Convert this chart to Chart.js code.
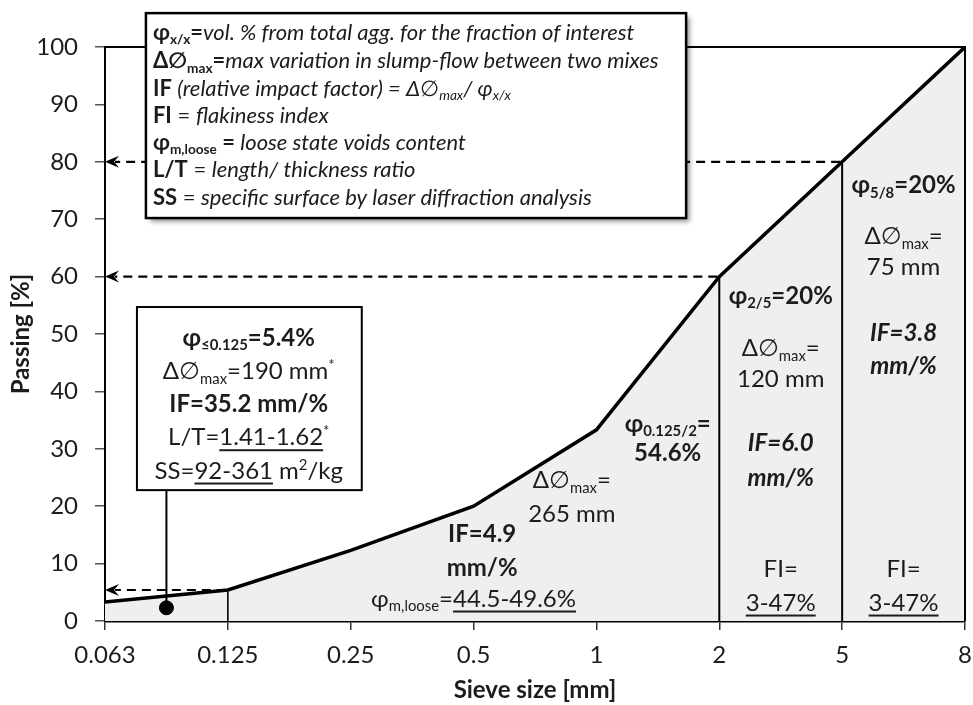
<!DOCTYPE html>
<html>
<head>
<meta charset="utf-8">
<script src="https://cdn.jsdelivr.net/npm/chart.js@4.4.1/dist/chart.umd.min.js"></script>
<style>
  html, body { margin: 0; padding: 0; background: #fff; }
  #wrap { width: 973px; height: 705px; }
</style>
</head>
<body>
<div id="wrap"><canvas id="chart" width="973" height="705"></canvas></div>
<script>
// Grading curve: sieve openings and cumulative passing
const sieveSizes = ['0.063', '0.125', '0.25', '0.5', '1', '2', '5', '8'];
const passing = [3.3, 5.4, 12.3, 20, 33.3, 60, 80, 100];
// sieves that close each fraction (≤0.125, 0.125/2, 2/5 and 5/8)
const fractionLimits = [1, 5, 6];
// marker of the filler fraction, placed between 0.063 and 0.125
const fillerPoint = [{ x: 0.5, y: 2.3 }];
const yMin = 0, yMax = 100, yStep = 10;

const FONT = 'Lato, "DejaVu Sans", sans-serif';
const INK = '#1c1c1c';

// ---- rich text helpers: each segment is [text, flags] ----
// flags: b = bold, i = italic, _ = subscript, ^ = superscript, u = underline
function segFont(flags, size) {
  const small = flags.includes('_') || flags.includes('^');
  const sz = small ? size * 0.62 : size;
  return (flags.includes('i') ? 'italic ' : '') + (flags.includes('b') ? 'bold ' : '') + sz + 'px ' + FONT;
}
function richWidth(ctx, segs, size) {
  let w = 0;
  for (const [t, f] of segs) { ctx.font = segFont(f, size); w += ctx.measureText(t).width; }
  return w;
}
function drawRich(ctx, segs, x, y, size, align) {
  const w = richWidth(ctx, segs, size);
  let cx = align === 'left' ? x : x - w / 2;
  const base = y + size * 0.36;
  ctx.textAlign = 'left';
  ctx.textBaseline = 'alphabetic';
  for (const [t, f] of segs) {
    ctx.font = segFont(f, size);
    let by = base;
    if (f.includes('_')) by += size * 0.2;
    if (f.includes('^')) by -= size * 0.38;
    ctx.fillText(t, cx, by);
    const sw = ctx.measureText(t).width;
    if (f.includes('u')) ctx.fillRect(cx, base + size * 0.16, sw, 2);
    cx += sw;
  }
}

const PHI = 'φ', DIA = '∅';

// notes inside the graded area, anchored at (sieve index, passing %)
const areaNotes = [
  { x: 6.5, y: 76.0, s: [[PHI, 'b'], ['5/8', 'b_'], ['=20%', 'b']] },
  { x: 6.5, y: 67.2, s: [['Δ' + DIA, ''], ['max', '_'], ['=', '']] },
  { x: 6.5, y: 61.7, s: [['75 mm', '']] },
  { x: 6.5, y: 50.2, s: [['IF=3.8', 'bi']] },
  { x: 6.5, y: 44.6, s: [['mm/%', 'bi']] },
  { x: 6.5, y: 9.2, s: [['FI=', '']] },
  { x: 6.5, y: 3.3, s: [['3-47%', 'u']] },
  { x: 5.5, y: 56.8, s: [[PHI, 'b'], ['2/5', 'b_'], ['=20%', 'b']] },
  { x: 5.5, y: 47.7, s: [['Δ' + DIA, ''], ['max', '_'], ['=', '']] },
  { x: 5.5, y: 42.3, s: [['120 mm', '']] },
  { x: 5.5, y: 31.2, s: [['IF=6.0', 'bi']] },
  { x: 5.5, y: 25.1, s: [['mm/%', 'bi']] },
  { x: 5.5, y: 9.2, s: [['FI=', '']] },
  { x: 5.5, y: 3.3, s: [['3-47%', 'u']] },
  { x: 4.58, y: 34.5, s: [[PHI, 'b'], ['0.125/2', 'b_'], ['=', 'b']] },
  { x: 4.58, y: 29.4, s: [['54.6%', 'b']] },
  { x: 3.8, y: 24.6, s: [['Δ' + DIA, ''], ['max', '_'], ['=', '']] },
  { x: 3.8, y: 18.8, s: [['265 mm', '']] },
  { x: 3.07, y: 15.3, s: [['IF=4.9', 'b']] },
  { x: 3.07, y: 9.4, s: [['mm/%', 'b']] },
  { x: 3.0, y: 4.0, s: [[PHI, ''], ['m,loose', '_'], ['=', ''], ['44.5-49.6%', 'u']] }
];

// filler fraction box
const fillerBox = { x0: 0.26, x1: 2.09, y0: 54.7, y1: 22.8, cx: 1.17 };
const fillerLines = [
  { y: 49.5, s: [[PHI, 'b'], ['≤0.125', 'b_'], ['=5.4%', 'b']] },
  { y: 43.7, s: [['Δ' + DIA, ''], ['max', '_'], ['=190 mm', ''], ['*', '^']] },
  { y: 38.0, s: [['IF=35.2 mm/%', 'b']] },
  { y: 32.1, s: [['L/T=', ''], ['1.41-1.62', 'u'], ['*', '^']] },
  { y: 26.3, s: [['SS=', ''], ['92-361', 'u'], [' m', ''], ['2', '^'], ['/kg', '']] }
];

// explanation of symbols
const keyBox = { x0: 0.333, x1: 4.73, y0: 105.9, y1: 70.2, tx: 0.39 };
const keyLines = [
  { y: 102.6, s: [[PHI, 'b'], ['x/x', 'b_'], ['=', 'b'], ['vol. % from total agg. for the fraction of interest', 'i']] },
  { y: 97.7, s: [['Δ' + DIA, 'b'], ['max', 'b_'], ['=', 'b'], ['max variation in slump-flow between two mixes', 'i']] },
  { y: 92.9, s: [['IF ', 'b'], ['(relative impact factor) = Δ' + DIA, 'i'], ['max', 'i_'], ['/ ' + PHI, 'i'], ['x/x', 'i_']] },
  { y: 88.2, s: [['FI', 'b'], [' = ', ''], ['flakiness index', 'i']] },
  { y: 83.5, s: [[PHI, 'b'], ['m,loose', 'b_'], [' = ', 'b'], ['loose state voids content', 'i']] },
  { y: 78.8, s: [['L/T', 'b'], [' = ', ''], ['length/ thickness ratio', 'i']] },
  { y: 73.9, s: [['SS', 'b'], [' = ', ''], ['specific surface by laser diffraction analysis', 'i']] }
];

function stealthArrow(ctx, x, y) {
  ctx.beginPath();
  ctx.moveTo(x, y);
  ctx.lineTo(x + 14, y - 6);
  ctx.lineTo(x + 9, y);
  ctx.lineTo(x + 14, y + 6);
  ctx.closePath();
  ctx.fill();
}

const annotations = {
  id: 'gradingNotes',
  afterDatasetsDraw(chart) {
    const { ctx, chartArea: a, scales: { x, y } } = chart;
    const px = v => x.getPixelForValue(v), py = v => y.getPixelForValue(v);
    ctx.save();
    ctx.fillStyle = '#000';
    ctx.strokeStyle = '#000';

    // fraction boundaries
    fractionLimits.forEach((i, k) => {
      ctx.lineWidth = k === 0 ? 1.6 : 2;
      ctx.beginPath();
      ctx.moveTo(px(i), py(0));
      ctx.lineTo(px(i), py(passing[i]));
      ctx.stroke();
    });

    // dashed read-offs to the passing axis
    ctx.lineWidth = 2.2;
    ctx.setLineDash([9, 6]);
    fractionLimits.forEach(i => {
      ctx.beginPath();
      ctx.moveTo(px(i) - 2, py(passing[i]));
      ctx.lineTo(a.left + 10, py(passing[i]));
      ctx.stroke();
    });
    ctx.setLineDash([]);
    fractionLimits.forEach(i => stealthArrow(ctx, a.left, py(passing[i])));

    // frame of the plot
    ctx.lineWidth = 2;
    ctx.beginPath();
    ctx.moveTo(a.left, a.top);
    ctx.lineTo(a.right, a.top);
    ctx.lineTo(a.right, a.bottom);
    ctx.stroke();

    // notes inside the graded area
    ctx.fillStyle = INK;
    areaNotes.forEach(n => drawRich(ctx, n.s, px(n.x), py(n.y), 24, 'center'));

    // filler box with its leader to the marker
    const fb = fillerBox;
    ctx.lineWidth = 2;
    ctx.beginPath();
    ctx.moveTo(px(fillerPoint[0].x), py(fb.y1));
    ctx.lineTo(px(fillerPoint[0].x), py(fillerPoint[0].y));
    ctx.stroke();
    ctx.fillStyle = '#fff';
    ctx.fillRect(px(fb.x0), py(fb.y0), px(fb.x1) - px(fb.x0), py(fb.y1) - py(fb.y0));
    ctx.strokeRect(px(fb.x0), py(fb.y0), px(fb.x1) - px(fb.x0), py(fb.y1) - py(fb.y0));
    ctx.fillStyle = INK;
    fillerLines.forEach(l => drawRich(ctx, l.s, px(fb.cx), py(l.y), 24, 'center'));

    // key of symbols with drop shadow
    const kb = keyBox;
    const kx = px(kb.x0), ky = py(kb.y0), kw = px(kb.x1) - kx, kh = py(kb.y1) - ky;
    ctx.save();
    ctx.shadowColor = 'rgba(0,0,0,0.45)';
    ctx.shadowBlur = 5;
    ctx.shadowOffsetX = 4;
    ctx.shadowOffsetY = 4;
    ctx.fillStyle = '#fff';
    ctx.fillRect(kx, ky, kw, kh);
    ctx.restore();
    ctx.lineWidth = 2.5;
    ctx.strokeRect(kx, ky, kw, kh);
    ctx.fillStyle = INK;
    keyLines.forEach(l => drawRich(ctx, l.s, px(kb.tx), py(l.y), 22, 'left'));

    ctx.restore();
  }
};

new Chart(document.getElementById('chart'), {
  type: 'line',
  data: {
    datasets: [
      {
        type: 'scatter',
        data: fillerPoint,
        pointRadius: 7,
        backgroundColor: '#000',
        borderColor: '#000',
        order: 0
      },
      {
        data: passing.map((v, i) => ({ x: i, y: v })),
        borderColor: '#000',
        borderWidth: 3.5,
        backgroundColor: '#efefef',
        fill: 'origin',
        pointRadius: 0,
        tension: 0,
        order: 1
      }
    ]
  },
  options: {
    responsive: false,
    animation: false,
    devicePixelRatio: 1,
    layout: { padding: { top: 47, right: 6, left: 0, bottom: 0 } },
    plugins: { legend: { display: false }, tooltip: { enabled: false } },
    scales: {
      x: {
        type: 'linear',
        min: 0,
        max: sieveSizes.length - 1,
        ticks: {
          stepSize: 1,
          autoSkip: false,
          maxRotation: 0,
          callback: v => sieveSizes[v] ?? '',
          font: { family: FONT, size: 24 },
          color: INK,
          padding: 11
        },
        grid: { drawOnChartArea: false, drawTicks: true, tickLength: 9, color: '#333', lineWidth: 1.5 },
        border: { display: true, color: '#000', width: 2.5 },
        title: {
          display: true,
          text: 'Sieve size [mm]',
          font: { family: FONT, size: 24, weight: 'bold' },
          color: INK,
          padding: { top: 0, bottom: 0 }
        },
        afterFit(s) { s.height = 84; s.paddingLeft = 0; s.paddingRight = 0; }
      },
      y: {
        min: yMin,
        max: yMax,
        ticks: {
          stepSize: yStep,
          font: { family: FONT, size: 24 },
          color: INK,
          padding: 17
        },
        grid: { drawOnChartArea: false, drawTicks: true, tickLength: 10, color: '#555', lineWidth: 1.5 },
        border: { display: true, color: '#000', width: 2 },
        title: {
          display: true,
          text: 'Passing [%]',
          font: { family: FONT, size: 24, weight: 'bold' },
          color: INK,
          padding: { top: 7, bottom: 0 }
        },
        afterFit(s) { s.width = 105; s.paddingTop = 0; s.paddingBottom = 0; }
      }
    }
  },
  plugins: [annotations]
});
</script>
</body>
</html>
